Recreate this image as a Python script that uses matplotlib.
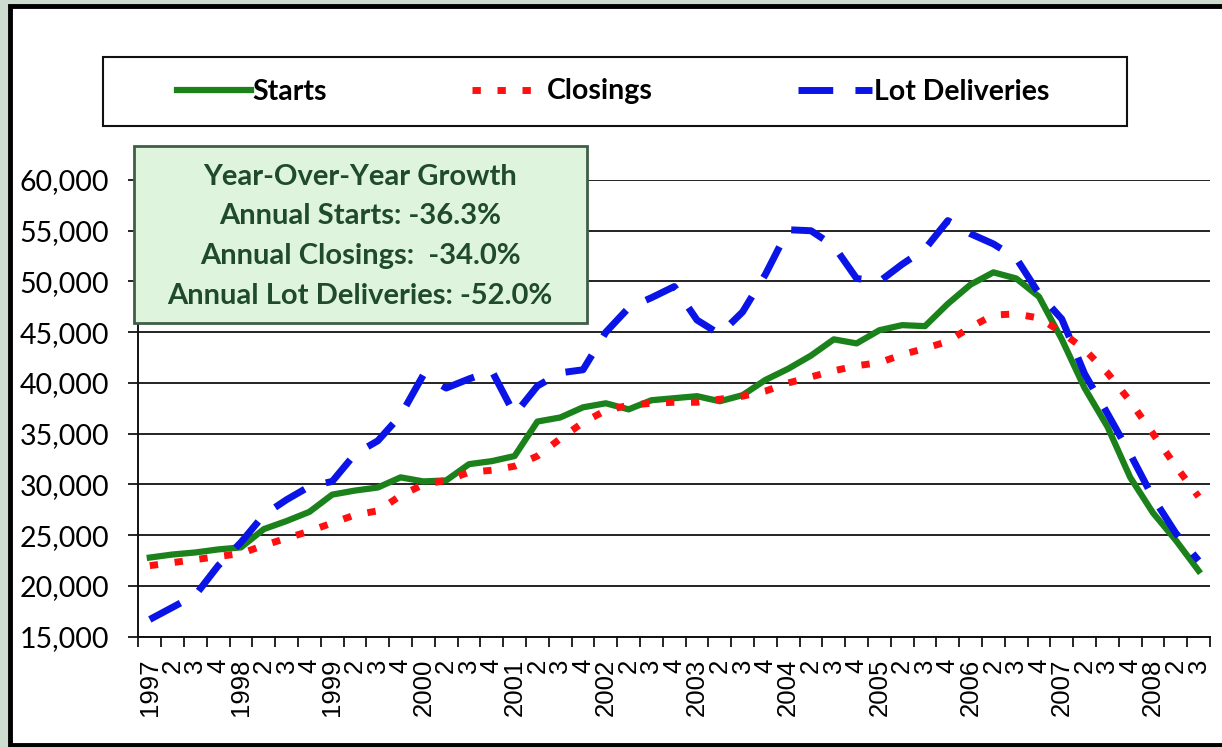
import matplotlib
matplotlib.use('Agg')
import matplotlib.pyplot as plt
from matplotlib.patches import Rectangle
from matplotlib.ticker import FixedLocator, StrMethodFormatter

# quarterly values, 1997 Q1 .. 2008 Q3
starts = [22800, 23100, 23300, 23600, 23800, 25600, 26400, 27300, 29000, 29400,
          29700, 30700, 30300, 30400, 32000, 32300, 32800, 36200, 36600, 37600,
          38000, 37400, 38300, 38500, 38700, 38200, 38800, 40300, 41400, 42700,
          44300, 43900, 45200, 45700, 45600, 47800, 49700, 50900, 50300, 48500,
          44300, 39500, 35700, 30700, 27200, 24500, 21500]
closings = [22000, 22300, 22600, 22900, 23200, 24000, 24700, 25400, 26200, 27000,
            27400, 28900, 30000, 30400, 31200, 31400, 31800, 32800, 34500, 36100,
            37300, 37800, 38000, 38100, 38100, 38400, 38700, 39200, 40000, 40600,
            41200, 41700, 42000, 42800, 43400, 44100, 45500, 46700, 46800, 46400,
            45000, 43300, 41000, 38200, 35000, 31800, 28800]
lot_deliveries = [16700, 17900, 19100, 22000, 24300, 27000, 28500, 29800, 30300, 33000,
                  34300, 36800, 40800, 39500, 40400, 41200, 36900, 39700, 41000, 41300,
                  45000, 47400, 48400, 49500, 46200, 44800, 47000, 50700, 55100, 55000,
                  53500, 50300, 50000, 51700, 53200, 56000, 54700, 53700, 52300, 48800,
                  46300, 40900, 37000, 33000, 28700, 25200, 22500]

years = list(range(1997, 2009))
quarter_labels = []
for y in years:
    quarter_labels += [str(y), '2', '3', '4']
quarter_labels = quarter_labels[:len(starts)]

growth_lines = ['Year-Over-Year Growth',
                'Annual Starts: -36.3%',
                'Annual Closings:  -34.0%',
                'Annual Lot Deliveries: -52.0%']

W, H = 1222, 747
fig = plt.figure(figsize=(W / 100, H / 100), dpi=100, facecolor='#cddccf')

# white chart panel with black frame
fig.patches.append(Rectangle((10 / W, 1 - 745 / H), 1.2, (745 - 6) / H,
                             transform=fig.transFigure, facecolor='white',
                             edgecolor='black', linewidth=3.5, zorder=-5))

ax = fig.add_axes([138.4 / W, 1 - 636.7 / H, (1210 - 138.4) / W, (636.7 - 180) / H])
ax.set_facecolor('none')
ax.set_zorder(1)

x = list(range(len(starts)))
l1, = ax.plot(x, starts, color='#1b821b', lw=4.5, solid_joinstyle='round',
              label='Starts', zorder=3)
l2, = ax.plot(x, closings, color='#ff1010', lw=5, dashes=(1.2, 2.4),
              dash_capstyle='butt', label='Closings', zorder=4)
l3, = ax.plot(x, lot_deliveries, color='#0a14e6', lw=5, dashes=(5.0, 3.2),
              dash_capstyle='butt', label='Lot Deliveries', zorder=5)

ax.set_xlim(-0.5, len(starts) - 0.5)
ax.set_ylim(15000, 60000)
ax.set_yticks(range(15000, 60001, 5000))
ax.yaxis.set_major_formatter(StrMethodFormatter('{x:,.0f}'))
ax.grid(axis='y', color='#222222', lw=1.4, zorder=1)

ax.set_xticks(x)
ax.set_xticklabels(quarter_labels, rotation=90, fontsize=18.5,
                   family='Liberation Sans', va='top')
ax.xaxis.set_minor_locator(FixedLocator([i - 0.5 for i in range(len(starts) + 1)]))
ax.tick_params(axis='x', which='major', length=0, pad=16)
ax.tick_params(axis='x', which='minor', length=7, width=1.2, direction='out')
ax.tick_params(axis='y', length=7, width=1.2, direction='out', pad=14)
for lab in ax.get_yticklabels():
    lab.set_family('Lato')
    lab.set_fontsize(20.5)

for s in ['top', 'right']:
    ax.spines[s].set_visible(False)
for s in ['left', 'bottom']:
    ax.spines[s].set_linewidth(1.4)
    ax.spines[s].set_color('#111111')

# legend box across the top
fig.patches.append(Rectangle((103 / W, 1 - 126 / H), (1127 - 103) / W, (126 - 57) / H,
                             transform=fig.transFigure, facecolor='white',
                             edgecolor='#111111', linewidth=1.5, zorder=-1))
fig.legend(handles=[l1, l2, l3], loc='center', bbox_to_anchor=(613 / W, 1 - 91.5 / H),
           ncol=3, frameon=False, prop={'family': 'Lato', 'weight': 'bold', 'size': 20.5},
           handlelength=2.6, handletextpad=0.05, columnspacing=5.1)

# growth annotation box
fig.patches.append(Rectangle((134 / W, 1 - 323 / H), (587 - 134) / W, (323 - 146) / H,
                             transform=fig.transFigure, facecolor='#def4dc',
                             edgecolor='#3e5f46', linewidth=2, zorder=6))
for k, t in enumerate(growth_lines):
    fig.text(360 / W, 1 - (177 + 39.5 * k) / H, t, ha='center', va='center',
             fontsize=21, fontweight='bold', family='Lato', color='#1f4a2c', zorder=7)

fig.savefig('out.png', dpi=100, facecolor=fig.get_facecolor())
